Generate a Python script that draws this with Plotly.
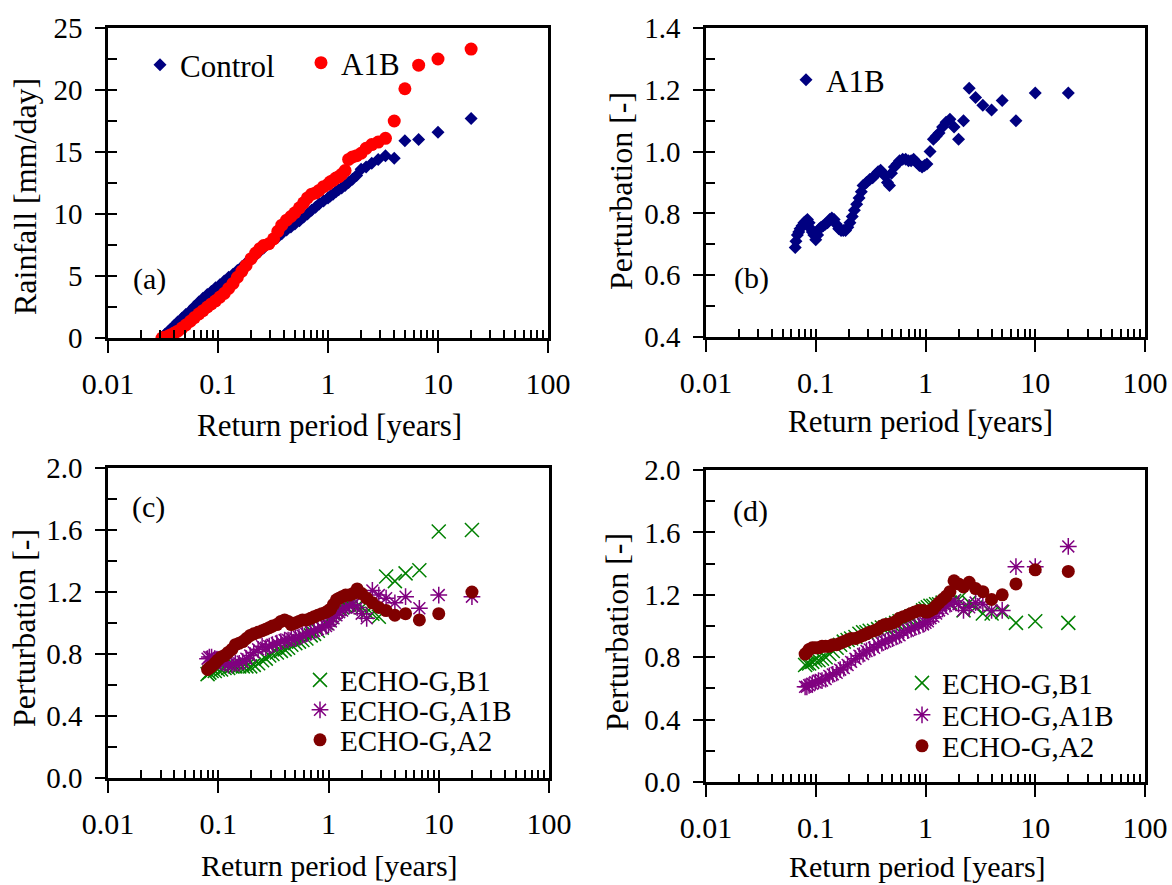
import plotly.graph_objects as go

W, H = 1172, 885
FONT = "Liberation Serif"

# ---------------- data ----------------
# (a) rainfall vs return period
tp_a = [20, 10, 6.67, 5, 4, 3.33, 2.86, 2.5, 2.22, 2.0, 1.82, 1.67, 1.54, 1.43, 1.33, 1.25,
        1.18, 1.11, 1.05, 1.0, 0.91, 0.83, 0.77, 0.71, 0.65, 0.6, 0.55, 0.5, 0.46, 0.42,
        0.38, 0.35, 0.32, 0.29, 0.26, 0.24, 0.22, 0.2, 0.18, 0.165, 0.15, 0.137, 0.125,
        0.114, 0.104, 0.095, 0.087, 0.08, 0.073, 0.067, 0.061, 0.056, 0.051, 0.047, 0.043,
        0.04, 0.037, 0.035, 0.033, 0.032, 0.031]
rain_control = [17.7, 16.6, 16.0, 15.9, 14.5, 14.7, 14.4, 14.1, 13.8, 13.6, 13.1, 12.8, 12.55,
                12.3, 12.1, 11.95, 11.8, 11.6, 11.45, 11.3, 11.05, 10.8, 10.55, 10.3, 10.0,
                9.75, 9.45, 9.2, 8.95, 8.7, 8.4, 8.15, 7.9, 7.6, 7.25, 7.0, 6.7, 6.4, 6.05,
                5.75, 5.45, 5.15, 4.9, 4.6, 4.3, 4.05, 3.75, 3.5, 3.2, 2.9, 2.55, 2.2, 1.9,
                1.6, 1.3, 1.0, 0.7, 0.5, 0.3, 0.15, 0.05]
rain_a1b = [23.3, 22.5, 22.0, 20.1, 17.5, 16.1, 15.8, 15.6, 15.3, 14.9, 14.7, 14.6, 14.4,
            13.5, 13.2, 13.0, 12.9, 12.7, 12.6, 12.4, 12.2, 11.9, 11.7, 11.6, 11.3, 10.9,
            10.5, 10.1, 9.8, 9.5, 9.1, 8.6, 8.0, 7.6, 7.45, 7.2, 6.85, 6.4, 5.85, 5.4, 4.9,
            4.4, 4.0, 3.6, 3.3, 3.0, 2.75, 2.5, 2.2, 1.95, 1.65, 1.35, 1.05, 0.8, 0.55, 0.4,
            0.25, 0.15, 0.05, 0.02, 0.0]

# (b) perturbation A1B
tp_b = [0.065, 0.066, 0.068, 0.070, 0.072, 0.075, 0.078, 0.081, 0.084, 0.087, 0.090, 0.093,
        0.096, 0.100, 0.104, 0.108, 0.112, 0.117, 0.122, 0.128, 0.134, 0.140, 0.147, 0.154,
        0.162, 0.170, 0.178, 0.187, 0.196, 0.205, 0.215, 0.225, 0.236, 0.248, 0.26, 0.27,
        0.29, 0.31, 0.33, 0.35, 0.37, 0.39, 0.41, 0.43, 0.45, 0.47, 0.49, 0.52, 0.55, 0.58,
        0.62, 0.66, 0.70, 0.74, 0.78, 0.83, 0.88, 0.93, 0.98, 1.03, 1.1, 1.18, 1.25, 1.33,
        1.43, 1.54, 1.67, 1.82, 2.0, 2.22, 2.5, 2.86, 3.33, 4.0, 5.0, 6.67, 10, 20]
pert_b = [0.69, 0.71, 0.73, 0.74, 0.75, 0.76, 0.77, 0.775, 0.78, 0.77, 0.75, 0.74, 0.73,
          0.715, 0.73, 0.75, 0.755, 0.76, 0.765, 0.77, 0.78, 0.785, 0.78, 0.765, 0.75, 0.745,
          0.745, 0.745, 0.755, 0.77, 0.79, 0.81, 0.83, 0.85, 0.87, 0.89, 0.9, 0.91, 0.915,
          0.925, 0.935, 0.94, 0.93, 0.92, 0.9, 0.89, 0.93, 0.95, 0.96, 0.97, 0.975, 0.975,
          0.97, 0.97, 0.975, 0.965, 0.955, 0.95, 0.955, 0.96, 1.0, 1.04, 1.05, 1.06, 1.08,
          1.095, 1.105, 1.08, 1.04, 1.1, 1.205, 1.175, 1.15, 1.135, 1.165, 1.1, 1.19, 1.19]

# (c), (d) perturbations of ECHO-G scenarios
tp_cd = [20, 10, 6.67, 5, 4, 3.33, 2.86, 2.5, 2.22, 2.0, 1.82, 1.67, 1.54, 1.43, 1.33, 1.25,
         1.18, 1.11, 1.05, 1.0, 0.95, 0.87, 0.8, 0.74, 0.69, 0.63, 0.58, 0.54, 0.5, 0.46,
         0.43, 0.4, 0.37, 0.34, 0.31, 0.29, 0.27, 0.25, 0.23, 0.21, 0.195, 0.18, 0.167,
         0.155, 0.143, 0.133, 0.123, 0.114, 0.106, 0.099, 0.093, 0.087, 0.083, 0.08]
c_b1 = [1.60, 1.59, 1.34, 1.32, 1.27, 1.30, 1.04, 1.06, 1.07, 1.10, 1.11, 1.12, 1.12, 1.11,
        1.10, 1.09, 1.08, 1.06, 1.04, 1.02, 1.0, 0.97, 0.95, 0.93, 0.92, 0.90, 0.89, 0.88,
        0.87, 0.86, 0.84, 0.83, 0.82, 0.81, 0.80, 0.79, 0.77, 0.76, 0.74, 0.73, 0.72, 0.72,
        0.72, 0.72, 0.72, 0.72, 0.71, 0.71, 0.70, 0.70, 0.69, 0.69, 0.68, 0.67]
c_a1b = [1.17, 1.18, 1.095, 1.17, 1.13, 1.16, 1.18, 1.21, 1.03, 1.06, 1.10, 1.12, 1.11, 1.10,
         1.08, 1.07, 1.05, 1.03, 1.01, 0.99, 0.98, 0.97, 0.96, 0.95, 0.94, 0.93, 0.92, 0.91,
         0.90, 0.90, 0.89, 0.89, 0.88, 0.87, 0.86, 0.85, 0.84, 0.85, 0.83, 0.81, 0.79, 0.77,
         0.75, 0.74, 0.74, 0.73, 0.73, 0.74, 0.75, 0.76, 0.77, 0.78, 0.78, 0.77]
c_a2 = [1.20, 1.06, 1.02, 1.06, 1.05, 1.08, 1.10, 1.13, 1.16, 1.19, 1.22, 1.19, 1.18, 1.18,
        1.17, 1.16, 1.15, 1.12, 1.09, 1.08, 1.07, 1.06, 1.05, 1.04, 1.03, 1.02, 1.02, 1.01,
        1.00, 0.99, 1.01, 1.02, 1.01, 0.99, 0.98, 0.97, 0.96, 0.95, 0.94, 0.93, 0.92, 0.90,
        0.88, 0.87, 0.86, 0.83, 0.81, 0.79, 0.78, 0.76, 0.74, 0.72, 0.71, 0.70]
d_b1 = [1.02, 1.03, 1.02, 1.09, 1.08, 1.08, 1.12, 1.15, 1.10, 1.17, 1.16, 1.15, 1.16, 1.15,
        1.14, 1.14, 1.13, 1.13, 1.12, 1.11, 1.10, 1.08, 1.07, 1.06, 1.05, 1.04, 1.03, 1.02,
        1.01, 1.00, 0.99, 0.99, 0.98, 0.97, 0.97, 0.96, 0.96, 0.95, 0.93, 0.92, 0.91, 0.90,
        0.88, 0.86, 0.84, 0.82, 0.80, 0.79, 0.78, 0.78, 0.77, 0.76, 0.76, 0.75]
d_a1b = [1.51, 1.38, 1.38, 1.10, 1.10, 1.14, 1.15, 1.12, 1.10, 1.14, 1.16, 1.14, 1.13, 1.11,
         1.10, 1.08, 1.06, 1.05, 1.03, 1.02, 1.01, 1.00, 0.99, 0.98, 0.97, 0.96, 0.94, 0.93,
         0.92, 0.91, 0.90, 0.89, 0.88, 0.86, 0.85, 0.84, 0.82, 0.81, 0.79, 0.77, 0.75, 0.73,
         0.72, 0.70, 0.69, 0.68, 0.66, 0.65, 0.65, 0.64, 0.63, 0.62, 0.61, 0.61]
d_a2 = [1.35, 1.36, 1.27, 1.20, 1.17, 1.22, 1.24, 1.28, 1.25, 1.27, 1.29, 1.22, 1.19, 1.17,
        1.15, 1.13, 1.11, 1.10, 1.09, 1.09, 1.10, 1.10, 1.09, 1.08, 1.07, 1.06, 1.05, 1.03,
        1.02, 1.01, 1.01, 1.00, 0.98, 0.97, 0.96, 0.95, 0.94, 0.93, 0.92, 0.92, 0.91, 0.90,
        0.89, 0.88, 0.88, 0.87, 0.87, 0.87, 0.86, 0.86, 0.86, 0.85, 0.83, 0.82]

x_tickvals = [0.01, 0.1, 1, 10, 100]
x_ticktext = ["0.01", "0.1", "1", "10", "100"]

# ---------------- helpers ----------------
def px(x):
    return x / W

def py(y):
    return 1 - y / H

NAVY, RED, GREEN, PURPLE, MAROON = "#000080", "#FF0000", "#008000", "#800080", "#800000"

# minor (inside) ticks: 2..9 per decade, plus the inner half of the crossing decade ticks
minor_x = [m * 10 ** e for e in (-2, -1, 0, 1) for m in range(2, 10)]
minor_x += [1.0005 * v for v in (0.1, 1, 10)]

def xaxis(x0, x1, anchor):
    return dict(type="log", range=[-2, 2], domain=[px(x0), px(x1)], anchor=anchor,
                showline=True, linecolor="black", linewidth=2.5, mirror=True,
                ticks="outside", ticklen=12, tickwidth=2, tickcolor="black",
                tickvals=x_tickvals, ticktext=x_ticktext, ticklabelstandoff=5,
                showgrid=False, zeroline=False, automargin=False,
                tickfont=dict(family=FONT, size=30, color="black"),
                minor=dict(ticks="inside", ticklen=8, tickwidth=2, tickcolor="black",
                           tickvals=minor_x, showgrid=False))

def yaxis(y_top, y_bot, anchor, rng, dtick, n_minor, fmt):
    step = dtick / 2
    eps = dtick * 1e-4
    mvals = [rng[0] + step * k + (eps if k % 2 == 0 else 0) for k in range(1, n_minor)]
    return dict(range=rng, domain=[py(y_bot), py(y_top)], anchor=anchor,
                showline=True, linecolor="black", linewidth=2.5, mirror=True,
                ticks="outside", ticklen=10, tickwidth=2, tickcolor="black",
                tick0=rng[0], dtick=dtick, tickformat=fmt, ticklabelstandoff=7,
                showgrid=False, zeroline=False, automargin=False,
                tickfont=dict(family=FONT, size=29, color="black"),
                minor=dict(ticks="inside", ticklen=9, tickwidth=2, tickcolor="black",
                           tickvals=mvals, showgrid=False))

fig = go.Figure()

# (a)
fig.add_trace(go.Scatter(x=tp_a, y=rain_control, mode="markers", name="Control",
                         marker=dict(symbol="diamond", size=10, color=NAVY),
                         xaxis="x", yaxis="y", legend="legend"))
fig.add_trace(go.Scatter(x=tp_a, y=rain_a1b, mode="markers", name="A1B",
                         marker=dict(symbol="circle", size=13, color=RED),
                         xaxis="x", yaxis="y", legend="legend2"))
# (b)
fig.add_trace(go.Scatter(x=tp_b, y=pert_b, mode="markers", name="A1B",
                         marker=dict(symbol="diamond", size=10, color=NAVY),
                         xaxis="x2", yaxis="y2", legend="legend3"))
# (c)
fig.add_trace(go.Scatter(x=tp_cd, y=c_b1, mode="markers", name="ECHO-G,B1",
                         marker=dict(symbol="x-thin-open", size=14, color=GREEN,
                                     line=dict(width=1.5, color=GREEN)),
                         xaxis="x3", yaxis="y3", legend="legend4"))
fig.add_trace(go.Scatter(x=tp_cd, y=c_a1b, mode="markers", name="ECHO-G,A1B",
                         marker=dict(symbol="asterisk-open", size=14, color=PURPLE,
                                     line=dict(width=1.5, color=PURPLE)),
                         xaxis="x3", yaxis="y3", legend="legend5"))
fig.add_trace(go.Scatter(x=tp_cd, y=c_a2, mode="markers", name="ECHO-G,A2",
                         marker=dict(symbol="circle", size=13, color=MAROON),
                         xaxis="x3", yaxis="y3", legend="legend6"))
# (d)
fig.add_trace(go.Scatter(x=tp_cd, y=d_b1, mode="markers", name="ECHO-G,B1",
                         marker=dict(symbol="x-thin-open", size=14, color=GREEN,
                                     line=dict(width=1.5, color=GREEN)),
                         xaxis="x4", yaxis="y4", legend="legend7"))
fig.add_trace(go.Scatter(x=tp_cd, y=d_a1b, mode="markers", name="ECHO-G,A1B",
                         marker=dict(symbol="asterisk-open", size=14, color=PURPLE,
                                     line=dict(width=1.5, color=PURPLE)),
                         xaxis="x4", yaxis="y4", legend="legend8"))
fig.add_trace(go.Scatter(x=tp_cd, y=d_a2, mode="markers", name="ECHO-G,A2",
                         marker=dict(symbol="circle", size=13, color=MAROON),
                         xaxis="x4", yaxis="y4", legend="legend9"))

def leg(sx, sy, size=29):
    return dict(x=px(sx - 20), y=py(sy), xanchor="left", yanchor="middle",
                bgcolor="rgba(0,0,0,0)", borderwidth=0,
                font=dict(family=FONT, size=size, color="black"))

layout = dict(
    width=W, height=H, margin=dict(l=0, r=0, t=0, b=0, pad=0, autoexpand=False),
    paper_bgcolor="white", plot_bgcolor="white", showlegend=True,
    xaxis=xaxis(108, 548, "y"),
    yaxis=yaxis(28, 338, "x", [0, 25], 5, 10, "d"),
    xaxis2=xaxis(706, 1145, "y2"),
    yaxis2=yaxis(28, 337, "x2", [0.4, 1.4], 0.2, 10, ".1f"),
    xaxis3=xaxis(108, 549, "y3"),
    yaxis3=yaxis(468, 778, "x3", [0, 2.0], 0.4, 10, ".1f"),
    xaxis4=xaxis(706, 1145, "y4"),
    yaxis4=yaxis(470, 782, "x4", [0, 2.0], 0.4, 10, ".1f"),
    legend=leg(160, 65, 31), legend2=leg(321, 63, 31), legend3=leg(806, 80, 31),
    legend4=leg(320, 680), legend5=leg(320, 710), legend6=leg(320, 740),
    legend7=leg(922, 683), legend8=leg(922, 715), legend9=leg(922, 746),
)
fig.update_layout(**layout)

def ann(text, x, y, angle=0, size=30):
    fig.add_annotation(text=text, x=px(x), y=py(y), xref="paper", yref="paper",
                       showarrow=False, textangle=angle, xanchor="center", yanchor="middle",
                       font=dict(family=FONT, size=size, color="black"))

# axis titles
ann("Return period [years]", 329, 426, size=31)
ann("Return period [years]", 920, 421, size=31)
ann("Return period [years]", 329, 865, size=30)
ann("Return period [years]", 917, 866, size=30)
ann("Rainfall [mm/day]", 25, 197, -90, size=32)
ann("Perturbation [-]", 621, 191, -90, size=32)
ann("Perturbation [-]", 24, 628, -90, size=32)
ann("Perturbation [-]", 617, 632, -90, size=32)
# panel labels
ann("(a)", 149, 279)
ann("(b)", 751, 278)
ann("(c)", 148, 507)
ann("(d)", 750, 511)

fig.write_html("out.html")
